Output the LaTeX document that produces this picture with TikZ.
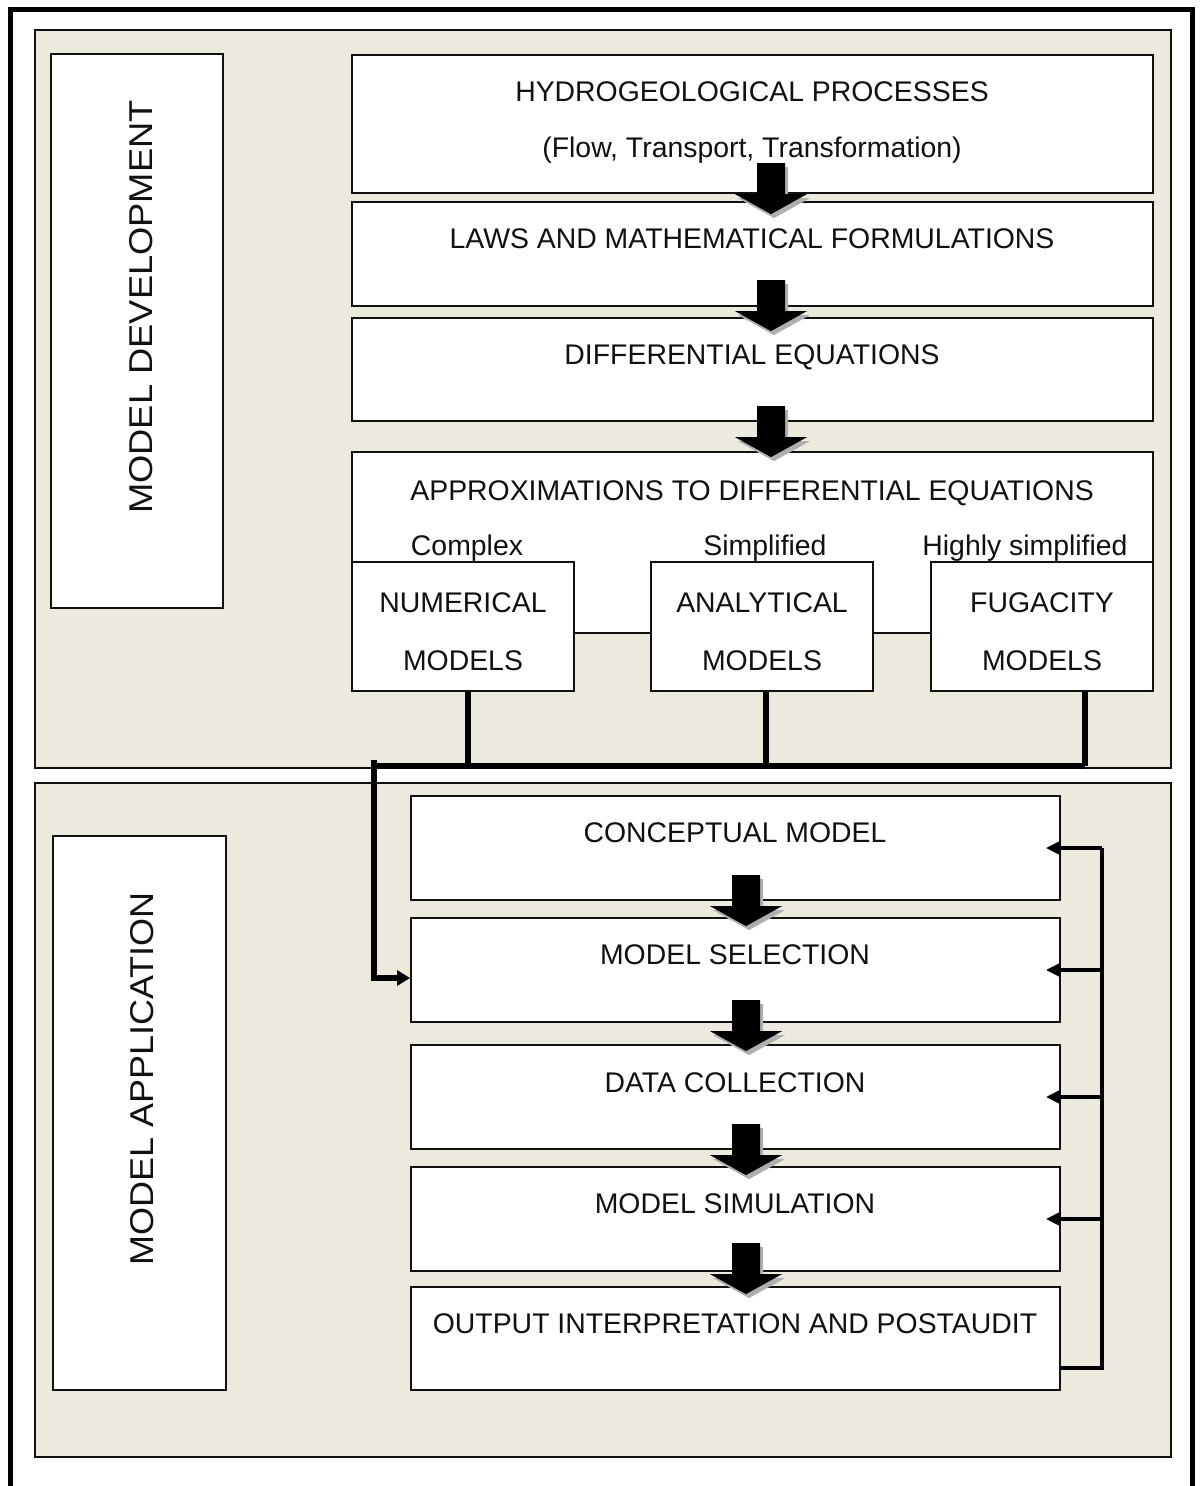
\documentclass[tikz,border=0pt]{standalone}
\usepackage{fontspec}
\setmainfont{Liberation Sans}
\usetikzlibrary{arrows.meta,calc}
\definecolor{panel}{RGB}{236,233,223}
\definecolor{shadowgray}{RGB}{175,175,175}
\definecolor{ink}{RGB}{17,17,17}
\begin{document}
\begin{tikzpicture}[x=1pt,y=-1pt,
  panelbox/.style={draw=ink, line width=1.6pt, fill=panel, rectangle, inner sep=0pt},
  box/.style={draw=ink, line width=1.8pt, fill=white, rectangle, inner sep=0pt},
  txt/.style={anchor=base, inner sep=0pt, text=ink, font=\fontsize{28.4}{32}\selectfont},
  sidetxt/.style={rotate=90, inner sep=0pt, text=ink, font=\fontsize{33}{36}\selectfont},
  thickline/.style={line width=5.5pt, draw=black},
  fb/.style={line width=4.5pt, draw=black, -{Triangle[length=15pt,width=14pt]}},
  blockarr/.pic={
    \fill[shadowgray] (-11,-47) -- (17,-47) -- (17,-16) -- (39,-16) -- (3,4) -- (-33,-16) -- (-11,-16) -- cycle;
    \fill[black] (-14,-51) -- (14,-51) -- (14,-20) -- (36,-20) -- (0,0) -- (-36,-20) -- (-14,-20) -- cycle;
  }
]
\useasboundingbox (0,0) rectangle (1200,1486);
\fill[white] (0,0) rectangle (1200,1486);

% outer frame
\draw[line width=5pt, black] (10.5,1490) -- (10.5,9.5) -- (1192.5,9.5) -- (1192.5,1490);

% panels
\node[panelbox, minimum width=1136pt, minimum height=738pt] (toppanel) at (603,399) {};
\node[panelbox, minimum width=1136pt, minimum height=674pt] (botpanel) at (603,1120) {};

% side label boxes
\node[box, minimum width=172pt, minimum height=554pt] (devbox) at (137,331) {};
\node[box, minimum width=173pt, minimum height=554pt] (appbox) at (139.5,1113) {};
\node[sidetxt] (devtxt) at (141,307) {\scalebox{1.1}[1]{MODEL DEVELOPMENT}};
\node[sidetxt] (apptxt) at (142,1079) {\scalebox{1.09}[1]{MODEL APPLICATION}};

% model development boxes
\node[box, minimum width=801pt, minimum height=138pt] (hydro) at (752.5,124) {};
\node[box, minimum width=801pt, minimum height=104pt] (laws) at (752.5,254) {};
\node[box, minimum width=801pt, minimum height=103pt] (diffeq) at (752.5,369.5) {};
\node[box, minimum width=801pt, minimum height=181pt] (approx) at (752.5,542.5) {};
\node[box, minimum width=222pt, minimum height=129pt] (num) at (463,626.5) {};
\node[box, minimum width=222pt, minimum height=129pt] (ana) at (762,626.5) {};
\node[box, minimum width=222pt, minimum height=129pt] (fug) at (1042,626.5) {};

\node[txt] (t-hydro1) at (752,101) {HYDROGEOLOGICAL PROCESSES};
\node[txt] (t-hydro2) at (752,157) {(Flow, Transport, Transformation)};
\node[txt] (t-laws) at (752,248) {LAWS AND MATHEMATICAL FORMULATIONS};
\node[txt] (t-diff) at (752,364) {DIFFERENTIAL EQUATIONS};
\node[txt] (t-approx) at (752,500) {APPROXIMATIONS TO DIFFERENTIAL EQUATIONS};
\node[txt] (t-complex) at (467,555) {Complex};
\node[txt] (t-simpl) at (765,555) {Simplified};
\node[txt] (t-hsimpl) at (1025,555) {Highly simplified};
\node[txt] (t-num1) at (463,612) {NUMERICAL};
\node[txt] (t-num2) at (463,670) {MODELS};
\node[txt] (t-ana1) at (762,612) {ANALYTICAL};
\node[txt] (t-ana2) at (762,670) {MODELS};
\node[txt] (t-fug1) at (1042,612) {FUGACITY};
\node[txt] (t-fug2) at (1042,670) {MODELS};

% model application boxes
\node[box, minimum width=649pt, minimum height=104pt] (conc) at (735.5,848) {};
\node[box, minimum width=649pt, minimum height=104pt] (sel) at (735.5,970) {};
\node[box, minimum width=649pt, minimum height=104pt] (data) at (735.5,1097) {};
\node[box, minimum width=649pt, minimum height=104pt] (sim) at (735.5,1219) {};
\node[box, minimum width=649pt, minimum height=103pt] (out) at (735.5,1338.5) {};

\node[txt] (t-conc) at (735,842) {CONCEPTUAL MODEL};
\node[txt] (t-sel) at (735,964) {MODEL SELECTION};
\node[txt] (t-data) at (735,1092) {DATA COLLECTION};
\node[txt] (t-sim) at (735,1213) {MODEL SIMULATION};
\node[txt] (t-out) at (735,1333) {OUTPUT INTERPRETATION AND POSTAUDIT};

% block arrows between stacked boxes
\pic at ($(laws.north)+(18.5,13)$) {blockarr};
\pic at ($(diffeq.north)+(18.5,14)$) {blockarr};
\pic at ($(approx.north)+(18.5,6)$) {blockarr};
\pic at ($(sel.north)+(10.5,9)$) {blockarr};
\pic at ($(data.north)+(10.5,7)$) {blockarr};
\pic at ($(sim.north)+(10.5,9)$) {blockarr};
\pic at ($(out.north)+(10.5,8)$) {blockarr};

% collector bus from the three model types
\coordinate (d1) at (468,766);
\coordinate (d2) at (766,766);
\coordinate (d3) at (1085,766);
\coordinate (busL) at (374,766);
\coordinate (bend) at (374,978);
\draw[thickline] (d1 |- num.south) -- (d1);
\draw[thickline] (d2 |- ana.south) -- (d2);
\draw[thickline] (d3 |- fug.south) -- (d3);
\draw[thickline] (busL) -- (d3);
\draw[thickline, -{Triangle[length=13pt,width=15pt]}] (374,760) -- (bend) -- (sel.west |- bend);

% feedback loop
\coordinate (fbx) at (1102,0);
\coordinate (fbbot) at (1102,1368);
\draw[line width=4.5pt, line join=miter] (out.east |- fbbot) -- (fbbot) -- (fbx |- conc.east);
\draw[fb] (fbx |- conc.east) -- ([xshift=-15pt]conc.east);
\draw[fb] (fbx |- sel.east) -- ([xshift=-15pt]sel.east);
\draw[fb] (fbx |- data.east) -- ([xshift=-15pt]data.east);
\draw[fb] (fbx |- sim.east) -- ([xshift=-15pt]sim.east);
\end{tikzpicture}
\end{document}
